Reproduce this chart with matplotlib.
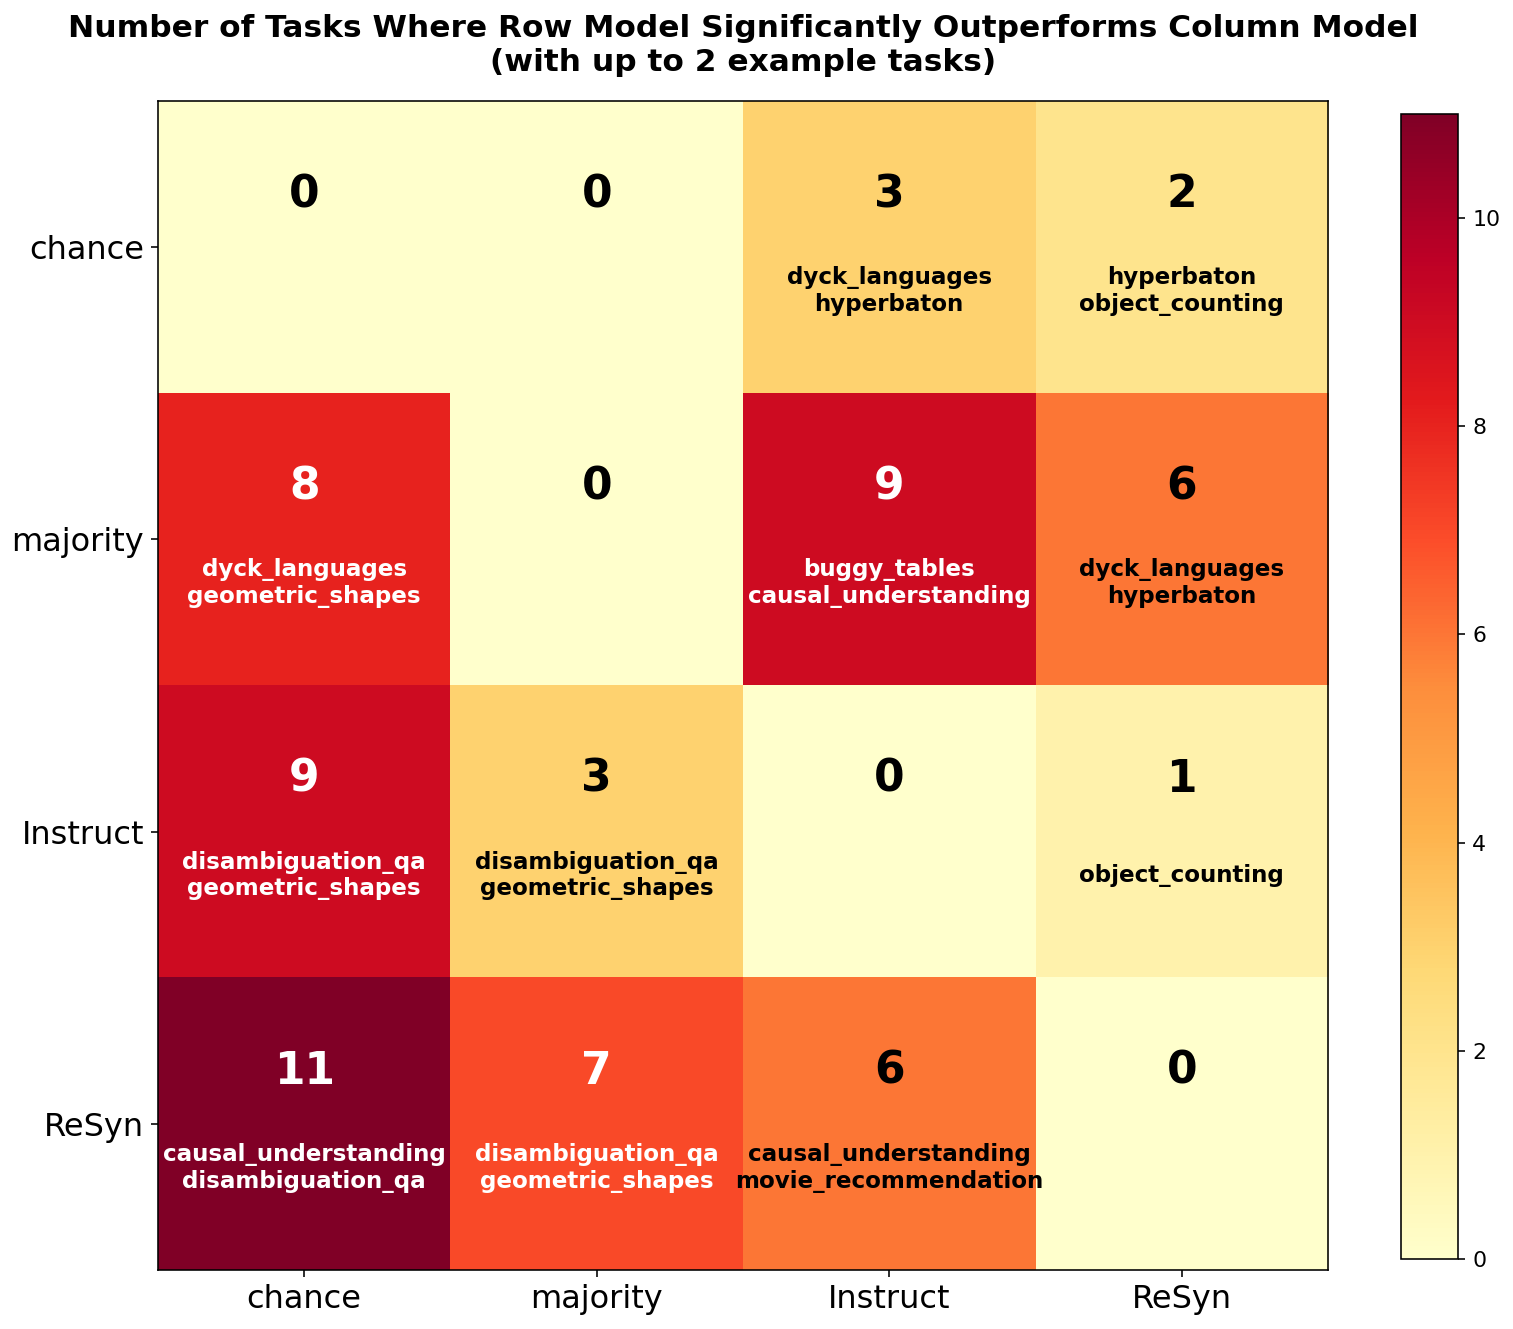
import numpy as np
import matplotlib
matplotlib.use("Agg")
import matplotlib.pyplot as plt

models = ["chance", "majority", "Instruct", "ReSyn"]
counts = [
    [0, 0, 3, 2],
    [8, 0, 9, 6],
    [9, 3, 0, 1],
    [11, 7, 6, 0],
]
tasks = [
    [[], [], ["dyck_languages", "hyperbaton"], ["hyperbaton", "object_counting"]],
    [["dyck_languages", "geometric_shapes"], [], ["buggy_tables", "causal_understanding"], ["dyck_languages", "hyperbaton"]],
    [["disambiguation_qa", "geometric_shapes"], ["disambiguation_qa", "geometric_shapes"], [], ["object_counting"]],
    [["causal_understanding", "disambiguation_qa"], ["disambiguation_qa", "geometric_shapes"], ["causal_understanding", "movie_recommendation"], []],
]
title = "Number of Tasks Where Row Model Significantly Outperforms Column Model\n(with up to 2 example tasks)"

data = np.array(counts)
vmax = data.max()

fig = plt.figure(figsize=(1513 / 144, 1329 / 144), dpi=144)
ax = fig.add_axes([0.1044, 0.0444, 0.7733, 0.8796])
cax = fig.add_axes([0.926, 0.0527, 0.0377, 0.8615])

im = ax.imshow(data, cmap="YlOrRd", vmin=0, vmax=vmax, aspect="auto")
cb = fig.colorbar(im, cax=cax)
cb.ax.tick_params(labelsize=11)

ax.set_xticks(range(len(models)))
ax.set_yticks(range(len(models)))
ax.set_xticklabels(models, fontsize=16)
ax.set_yticklabels(models, fontsize=16)

for i in range(len(models)):
    for j in range(len(models)):
        v = data[i, j]
        color = "white" if v > vmax * 0.6 else "black"
        ax.text(j, i - 0.18, str(v), ha="center", va="center",
                fontsize=22, fontweight="bold", color=color)
        if tasks[i][j]:
            ax.text(j, i + 0.15, "\n".join(tasks[i][j]), ha="center", va="center",
                    fontsize=11.5, fontweight="bold", color=color)

ax.set_title(title, fontsize=15.6, fontweight="bold", pad=15)

fig.savefig("out.png", dpi=144)
